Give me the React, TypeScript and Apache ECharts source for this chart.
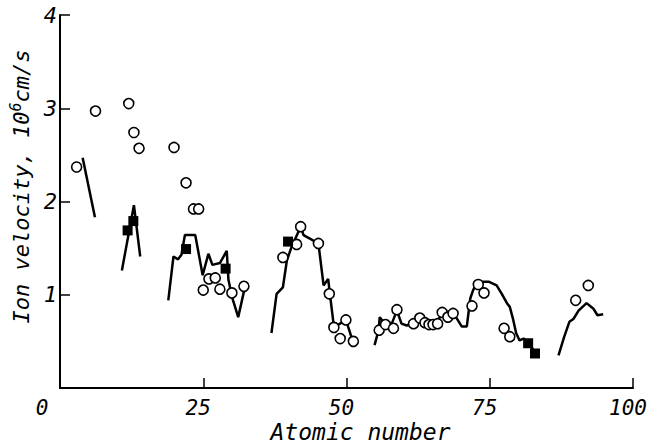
import React, { useEffect, useRef } from "react";
import * as echarts from "echarts";

// Theory curves: [atomic number, velocity (10^6 cm/s)]
const curve1 = [[3.95, 2.47], [6.1, 1.83]];
const curve2 = [[10.8, 1.26], [12.9, 1.96], [14.0, 1.41]];
const curve3 = [
  [18.9, 0.94], [19.8, 1.41], [20.6, 1.38], [21.2, 1.43], [21.8, 1.64], [23.6, 1.64],
  [24.9, 1.21], [25.9, 1.44], [26.6, 1.32], [27.9, 1.34], [29.1, 1.47], [29.4, 1.16],
  [30.0, 0.98], [31.1, 0.76], [32.3, 1.09],
];
const curve4 = [
  [36.9, 0.59], [37.8, 1.01], [38.9, 1.08], [39.6, 1.37], [40.4, 1.51], [42.0, 1.73],
  [42.5, 1.64], [45.1, 1.55], [46.0, 1.1], [46.8, 1.17], [47.1, 1.01], [47.8, 0.66],
  [48.6, 0.68], [49.9, 0.73], [51.1, 0.5],
];
const curve5 = [
  [54.9, 0.46], [55.6, 0.62], [55.8, 0.76], [56.4, 0.71], [57.9, 0.69], [58.8, 0.83],
  [59.6, 0.69], [60.5, 0.67], [61.7, 0.7], [62.8, 0.75], [64.3, 0.69], [65.7, 0.69],
  [66.7, 0.81], [67.7, 0.76], [68.6, 0.81], [70.1, 0.66], [71.0, 0.66], [71.6, 0.96],
  [72.1, 1.05], [72.7, 1.12], [73.6, 1.14], [74.8, 1.14], [76.2, 1.1], [77.1, 1.01],
  [78.0, 0.91], [78.5, 0.87], [79.1, 0.73], [79.6, 0.59], [80.2, 0.51], [80.9, 0.53],
  [81.7, 0.49], [82.9, 0.38],
];
const curve6 = [
  [87.0, 0.35], [88.0, 0.55], [88.9, 0.71], [89.6, 0.74], [90.5, 0.83], [91.9, 0.91],
  [93.1, 0.85], [93.8, 0.78], [94.8, 0.79],
];

// Experimental points (open circles)
const circlePoints = [
  [2.9, 2.37], [6.2, 2.97], [12.0, 3.05], [12.9, 2.74], [13.8, 2.57], [19.9, 2.58],
  [22.0, 2.2], [23.3, 1.92], [24.2, 1.92], [25.0, 1.05], [26.0, 1.17], [27.1, 1.18],
  [27.9, 1.06], [30.0, 1.02], [32.1, 1.09],
  [38.9, 1.4], [41.3, 1.54], [42.0, 1.73], [45.1, 1.55], [47.0, 1.01], [47.8, 0.65],
  [48.9, 0.53], [49.9, 0.73], [51.2, 0.5],
  [55.7, 0.62], [56.8, 0.68], [58.2, 0.64], [58.8, 0.84], [61.7, 0.69], [62.8, 0.75],
  [63.7, 0.7], [64.4, 0.68], [65.1, 0.68], [65.9, 0.69], [66.7, 0.81], [67.7, 0.76],
  [68.6, 0.8], [71.9, 0.88], [73.0, 1.11], [74.0, 1.02], [77.5, 0.64], [78.5, 0.55],
  [90.0, 0.94], [92.2, 1.1],
];

// Experimental points (filled squares)
const squarePoints = [
  [11.8, 1.69], [12.8, 1.79], [22.0, 1.49], [28.9, 1.28], [39.8, 1.57], [81.7, 0.48], [82.9, 0.37],
];

const xTicks = [0, 25, 50, 75, 100];
const yTicks = [0, 1, 2, 3, 4];
const xName = "Atomic number";
const yNameMain = "Ion velocity, 10";
const yNameSup = "6";
const yNameUnit = "cm/s";

const FONT = "'DejaVu Sans Mono', monospace";

export default function App() {
  const ref = useRef<HTMLDivElement>(null);
  useEffect(() => {
    if (!ref.current) return;
    const chart = echarts.init(ref.current, null, { renderer: "svg" });
    const curves = [curve1, curve2, curve3, curve4, curve5, curve6];
    const lineSeries = curves.map((c, i) => ({
      type: "line",
      name: "curve" + (i + 1),
      data: c,
      showSymbol: false,
      symbol: "none",
      lineStyle: { color: "#000", width: 2.5 },
      z: 2,
    }));
    chart.setOption({
      animation: false,
      backgroundColor: "#fff",
      textStyle: { fontFamily: FONT, color: "#000" },
      grid: { left: 60, right: 18, top: 15, bottom: 60, containLabel: false, outerBoundsMode: "none" },
      xAxis: {
        type: "value",
        min: xTicks[0],
        max: xTicks[xTicks.length - 1],
        interval: 25,
        name: xName,
        nameLocation: "middle",
        nameGap: 32,
        nameMoveOverlap: false,
        nameTextStyle: { fontFamily: FONT, fontStyle: "italic", fontSize: 23, color: "#000", padding: [0, 0, 0, 28] },
        axisLine: { lineStyle: { color: "#000", width: 2 } },
        axisTick: { inside: true, length: 10, lineStyle: { color: "#000", width: 1.5 } },
        splitLine: { show: false },
        axisLabel: {
          margin: 9,
          fontFamily: FONT,
          fontStyle: "italic",
          fontSize: 21,
          color: "#000",
          formatter: (v: number) => (v === 0 ? "{z|0}" : "{n|" + v + "}"),
          rich: {
            z: { fontFamily: FONT, fontStyle: "italic", fontSize: 21, color: "#000", padding: [0, 36, 0, 0] },
            n: { fontFamily: FONT, fontStyle: "italic", fontSize: 21, color: "#000", padding: [0, 10, 0, 0] },
          },
        },
      },
      yAxis: {
        type: "value",
        min: yTicks[0],
        max: yTicks[yTicks.length - 1],
        interval: 1,
        name: "{m|" + yNameMain + "}{s|" + yNameSup + "}{m|" + yNameUnit + "}",
        nameLocation: "middle",
        nameRotate: 90,
        nameGap: 25,
        nameMoveOverlap: false,
        nameTextStyle: {
          fontFamily: FONT,
          fontStyle: "italic",
          fontSize: 22,
          color: "#000",
          padding: [0, 0, 0, 30],
          rich: {
            m: { fontFamily: FONT, fontStyle: "italic", fontSize: 22, color: "#000" },
            s: { fontFamily: FONT, fontStyle: "italic", fontSize: 15, color: "#000", verticalAlign: "bottom", padding: [0, 0, 12, 0] },
          },
        },
        axisLine: { lineStyle: { color: "#000", width: 2 } },
        axisTick: { inside: true, length: 10, lineStyle: { color: "#000", width: 1.5 } },
        splitLine: { show: false },
        axisLabel: {
          showMinLabel: false,
          margin: 3,
          fontFamily: FONT,
          fontStyle: "italic",
          fontSize: 22,
          color: "#000",
        },
      },
      series: [
        ...lineSeries,
        {
          type: "scatter",
          name: "circles",
          data: circlePoints,
          symbol: "circle",
          symbolSize: 10,
          itemStyle: { color: "#fff", borderColor: "#000", borderWidth: 1.6, opacity: 1 },
          z: 3,
        },
        {
          type: "scatter",
          name: "squares",
          data: squarePoints,
          symbol: "rect",
          symbolSize: 10,
          itemStyle: { color: "#000", opacity: 1 },
          z: 4,
        },
      ],
    });
    return () => chart.dispose();
  }, []);
  return (
    <div
      ref={ref}
      style={{ position: "fixed", left: 0, top: 0, width: 651, height: 448, background: "#fff" }}
    />
  );
}
